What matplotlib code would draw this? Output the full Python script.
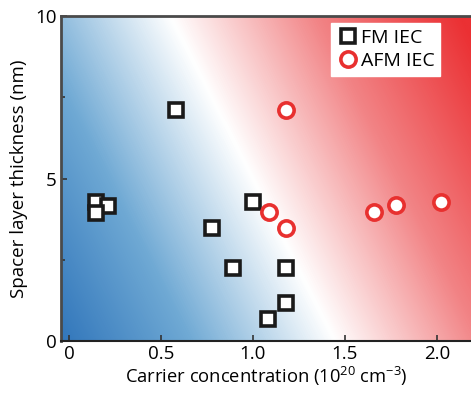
import numpy as np
import matplotlib.pyplot as plt
from matplotlib.colors import LinearSegmentedColormap

plt.rcParams['font.family'] = ['Open Sans', 'DejaVu Sans']
plt.rcParams['mathtext.fontset'] = 'custom'
plt.rcParams['mathtext.rm'] = 'Open Sans'

# data
fm_x = [0.58, 0.145, 0.21, 0.145, 0.775, 1.0, 0.89, 1.18, 1.18, 1.08]
fm_y = [7.1, 4.29, 4.16, 3.95, 3.47, 4.29, 2.26, 2.26, 1.18, 0.68]
afm_x = [1.18, 1.085, 1.18, 1.66, 1.775, 2.02]
afm_y = [7.1, 3.98, 3.47, 3.98, 4.18, 4.29]

xlim = (-0.043, 2.185)
ylim = (0, 10)

fig = plt.figure(figsize=(4.71, 3.93), dpi=100)
ax = fig.add_axes([61 / 471, 52 / 393, 410 / 471, 325 / 393])

# background gradient (blue -> white -> red), boundary line tilted
W, H = 410, 325
px, py = np.meshgrid(np.linspace(0, W, 400), np.linspace(0, H, 320))
# py measured from top of axes
line_x = 274 + (py - H) * 0.506
d = (px - line_x) / 1.12 / 260
d = np.clip(d, -1, 1)
cmap = LinearSegmentedColormap.from_list(
    'bwr_fig', [(0, '#2a70b8'), (0.25, '#6fa9d4'), (0.5, '#ffffff'),
                (0.75, '#f28486'), (1, '#eb3033')])
ax.imshow((d + 1) / 2, cmap=cmap, vmin=0, vmax=1, origin='upper',
          extent=[xlim[0], xlim[1], ylim[0], ylim[1]], aspect='auto',
          zorder=0, interpolation='bilinear')

ax.plot(fm_x, fm_y, 's', ms=9.5, mfc='white', mec='#1a1a1a', mew=2.6,
        ls='none', label='FM IEC', zorder=3)
ax.plot(afm_x, afm_y, 'o', ms=11, mfc='white', mec='#e8302f', mew=2.6,
        ls='none', label='AFM IEC', zorder=3)

ax.set_xlim(xlim)
ax.set_ylim(ylim)
ax.set_xticks([0, 0.5, 1.0, 1.5, 2.0])
ax.set_xticklabels(['0', '0.5', '1.0', '1.5', '2.0'])
ax.set_yticks([0, 5, 10])
ax.set_yticks([2.5, 7.5], minor=True)
ax.tick_params(direction='in', length=4, width=1.2, labelsize=13.5, pad=3,
               color='#333333')
ax.tick_params(which='minor', direction='in', length=3, width=1.2,
               color='#333333')

ax.set_xlabel('Carrier concentration (10$^{20}$ cm$^{-3}$)', fontsize=13.2,
              labelpad=1)
ax.set_ylabel('Spacer layer thickness (nm)', fontsize=13.5, labelpad=5)

for s in ['left', 'top']:
    ax.spines[s].set_color('#4a4a4a')
    ax.spines[s].set_linewidth(2)
ax.spines['bottom'].set_color('#222222')
ax.spines['bottom'].set_linewidth(1.5)
ax.spines['right'].set_visible(False)

leg = ax.legend(loc='upper right', bbox_to_anchor=(0.925, 0.978),
                fontsize=14, frameon=True, fancybox=False,
                handletextpad=0.05, borderpad=0.3, labelspacing=0.25,
                handlelength=1.2, borderaxespad=0)
leg.get_frame().set_facecolor('white')
leg.get_frame().set_edgecolor('white')
leg.get_frame().set_alpha(1)

fig.savefig('out.png', dpi=100)
